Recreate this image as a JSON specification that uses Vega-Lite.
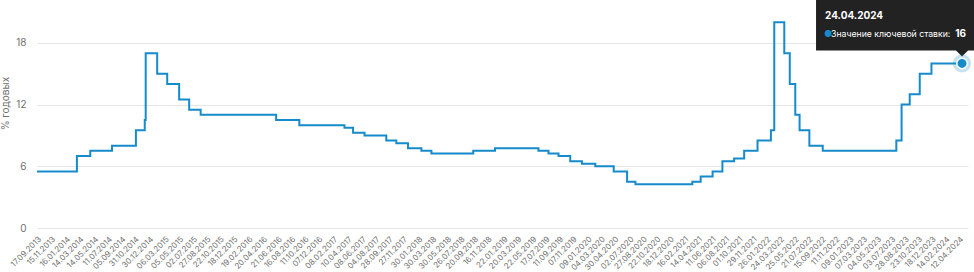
{
  "$schema": "https://vega.github.io/schema/vega-lite/v6.json",
  "width": 931,
  "height": 216,
  "autosize": {"type": "none"},
  "padding": {"left": 37, "top": 12, "right": 6, "bottom": 44},
  "background": "#ffffff",
  "config": {
    "view": {"stroke": null},
    "font": "Inter",
    "axis": {"labelColor": "#6f6f6f", "titleColor": "#6f6f6f", "labelFont": "Inter", "titleFont": "Inter"}
  },
  "datasets": {
    "rate": [
      {"date": "2013-09-17", "rate": 5.5},
      {"date": "2014-03-03", "rate": 7.0},
      {"date": "2014-04-28", "rate": 7.5},
      {"date": "2014-07-28", "rate": 8.0},
      {"date": "2014-11-05", "rate": 9.5},
      {"date": "2014-12-12", "rate": 10.5},
      {"date": "2014-12-16", "rate": 17.0},
      {"date": "2015-02-02", "rate": 15.0},
      {"date": "2015-03-16", "rate": 14.0},
      {"date": "2015-05-05", "rate": 12.5},
      {"date": "2015-06-16", "rate": 11.5},
      {"date": "2015-08-03", "rate": 11.0},
      {"date": "2016-06-14", "rate": 10.5},
      {"date": "2016-09-19", "rate": 10.0},
      {"date": "2017-03-27", "rate": 9.75},
      {"date": "2017-05-02", "rate": 9.25},
      {"date": "2017-06-19", "rate": 9.0},
      {"date": "2017-09-18", "rate": 8.5},
      {"date": "2017-10-30", "rate": 8.25},
      {"date": "2017-12-18", "rate": 7.75},
      {"date": "2018-02-12", "rate": 7.5},
      {"date": "2018-03-26", "rate": 7.25},
      {"date": "2018-09-17", "rate": 7.5},
      {"date": "2018-12-17", "rate": 7.75},
      {"date": "2019-06-17", "rate": 7.5},
      {"date": "2019-07-29", "rate": 7.25},
      {"date": "2019-09-09", "rate": 7.0},
      {"date": "2019-10-28", "rate": 6.5},
      {"date": "2019-12-16", "rate": 6.25},
      {"date": "2020-02-10", "rate": 6.0},
      {"date": "2020-04-27", "rate": 5.5},
      {"date": "2020-06-22", "rate": 4.5},
      {"date": "2020-07-27", "rate": 4.25},
      {"date": "2021-03-22", "rate": 4.5},
      {"date": "2021-04-26", "rate": 5.0},
      {"date": "2021-06-15", "rate": 5.5},
      {"date": "2021-07-26", "rate": 6.5},
      {"date": "2021-09-13", "rate": 6.75},
      {"date": "2021-10-25", "rate": 7.5},
      {"date": "2021-12-20", "rate": 8.5},
      {"date": "2022-02-14", "rate": 9.5},
      {"date": "2022-02-28", "rate": 20.0},
      {"date": "2022-04-11", "rate": 17.0},
      {"date": "2022-05-04", "rate": 14.0},
      {"date": "2022-05-27", "rate": 11.0},
      {"date": "2022-06-14", "rate": 9.5},
      {"date": "2022-07-25", "rate": 8.0},
      {"date": "2022-09-19", "rate": 7.5},
      {"date": "2023-07-24", "rate": 8.5},
      {"date": "2023-08-15", "rate": 12.0},
      {"date": "2023-09-18", "rate": 13.0},
      {"date": "2023-10-30", "rate": 15.0},
      {"date": "2023-12-18", "rate": 16.0},
      {"date": "2024-04-24", "rate": 16.0}
    ],
    "last": [
      {"date": "2024-04-24", "rate": 16, "title": "24.04.2024", "label": "Значение ключевой ставки: ", "value": "16"}
    ]
  },
  "encoding": {
    "x": {
      "field": "date",
      "type": "temporal",
      "scale": {
        "type": "utc",
        "domain": [
          {"year": 2013, "month": 9, "date": 17, "utc": true},
          {"year": 2024, "month": 5, "date": 19, "utc": true}
        ]
      },
      "axis": {
        "title": null,
        "grid": false,
        "domain": false,
        "ticks": false,
        "labelAngle": -45,
        "labelFontSize": 8,
        "labelPadding": 7,
        "labelOverlap": false,
        "labelBound": false,
        "labelFlush": false,
        "format": "%d.%m.%Y",
        "values": [
          {"year": 2013, "month": 9, "date": 17, "utc": true},
          {"year": 2013, "month": 11, "date": 15, "utc": true},
          {"year": 2014, "month": 1, "date": 16, "utc": true},
          {"year": 2014, "month": 3, "date": 14, "utc": true},
          {"year": 2014, "month": 5, "date": 14, "utc": true},
          {"year": 2014, "month": 7, "date": 11, "utc": true},
          {"year": 2014, "month": 9, "date": 5, "utc": true},
          {"year": 2014, "month": 10, "date": 31, "utc": true},
          {"year": 2014, "month": 12, "date": 30, "utc": true},
          {"year": 2015, "month": 3, "date": 6, "utc": true},
          {"year": 2015, "month": 5, "date": 5, "utc": true},
          {"year": 2015, "month": 7, "date": 2, "utc": true},
          {"year": 2015, "month": 8, "date": 27, "utc": true},
          {"year": 2015, "month": 10, "date": 22, "utc": true},
          {"year": 2015, "month": 12, "date": 18, "utc": true},
          {"year": 2016, "month": 2, "date": 19, "utc": true},
          {"year": 2016, "month": 4, "date": 20, "utc": true},
          {"year": 2016, "month": 6, "date": 21, "utc": true},
          {"year": 2016, "month": 8, "date": 16, "utc": true},
          {"year": 2016, "month": 10, "date": 11, "utc": true},
          {"year": 2016, "month": 12, "date": 7, "utc": true},
          {"year": 2017, "month": 2, "date": 8, "utc": true},
          {"year": 2017, "month": 4, "date": 10, "utc": true},
          {"year": 2017, "month": 6, "date": 8, "utc": true},
          {"year": 2017, "month": 8, "date": 4, "utc": true},
          {"year": 2017, "month": 9, "date": 28, "utc": true},
          {"year": 2017, "month": 11, "date": 27, "utc": true},
          {"year": 2018, "month": 1, "date": 30, "utc": true},
          {"year": 2018, "month": 3, "date": 30, "utc": true},
          {"year": 2018, "month": 5, "date": 30, "utc": true},
          {"year": 2018, "month": 7, "date": 26, "utc": true},
          {"year": 2018, "month": 9, "date": 20, "utc": true},
          {"year": 2018, "month": 11, "date": 16, "utc": true},
          {"year": 2019, "month": 1, "date": 22, "utc": true},
          {"year": 2019, "month": 3, "date": 20, "utc": true},
          {"year": 2019, "month": 5, "date": 22, "utc": true},
          {"year": 2019, "month": 7, "date": 17, "utc": true},
          {"year": 2019, "month": 9, "date": 11, "utc": true},
          {"year": 2019, "month": 11, "date": 7, "utc": true},
          {"year": 2020, "month": 1, "date": 9, "utc": true},
          {"year": 2020, "month": 3, "date": 4, "utc": true},
          {"year": 2020, "month": 4, "date": 30, "utc": true},
          {"year": 2020, "month": 7, "date": 2, "utc": true},
          {"year": 2020, "month": 8, "date": 27, "utc": true},
          {"year": 2020, "month": 10, "date": 22, "utc": true},
          {"year": 2020, "month": 12, "date": 18, "utc": true},
          {"year": 2021, "month": 2, "date": 16, "utc": true},
          {"year": 2021, "month": 4, "date": 14, "utc": true},
          {"year": 2021, "month": 6, "date": 11, "utc": true},
          {"year": 2021, "month": 8, "date": 6, "utc": true},
          {"year": 2021, "month": 10, "date": 1, "utc": true},
          {"year": 2021, "month": 11, "date": 29, "utc": true},
          {"year": 2022, "month": 1, "date": 26, "utc": true},
          {"year": 2022, "month": 3, "date": 24, "utc": true},
          {"year": 2022, "month": 5, "date": 25, "utc": true},
          {"year": 2022, "month": 7, "date": 21, "utc": true},
          {"year": 2022, "month": 9, "date": 15, "utc": true},
          {"year": 2022, "month": 11, "date": 11, "utc": true},
          {"year": 2023, "month": 1, "date": 9, "utc": true},
          {"year": 2023, "month": 3, "date": 7, "utc": true},
          {"year": 2023, "month": 5, "date": 4, "utc": true},
          {"year": 2023, "month": 7, "date": 3, "utc": true},
          {"year": 2023, "month": 8, "date": 28, "utc": true},
          {"year": 2023, "month": 10, "date": 23, "utc": true},
          {"year": 2023, "month": 12, "date": 18, "utc": true},
          {"year": 2024, "month": 2, "date": 14, "utc": true},
          {"year": 2024, "month": 4, "date": 12, "utc": true}
        ]
      }
    },
    "y": {
      "field": "rate",
      "type": "quantitative",
      "scale": {"domain": [0, 21], "nice": false, "zero": true},
      "axis": {
        "title": "% годовых",
        "titleFontSize": 10,
        "titleFontWeight": "normal",
        "titleX": -32,
        "titleY": 91,
        "titleAngle": -90,
        "titleAlign": "center",
        "titleBaseline": "middle",
        "values": [0, 6, 12, 18],
        "labelFontSize": 10,
        "labelPadding": 11,
        "domain": false,
        "ticks": false,
        "grid": true,
        "gridColor": "#e6e6e6",
        "gridWidth": 1
      }
    }
  },
  "layer": [
    {
      "data": {"name": "rate"},
      "mark": {"type": "line", "interpolate": "step-after", "color": "#168bcb", "strokeWidth": 2}
    },
    {
      "data": {"name": "last"},
      "mark": {"type": "point", "shape": "M-1.46,-0.75H0.2V-0.13H0.06L0,-0.07L-0.06,-0.13H-1.46Z", "size": 40000, "filled": true, "fill": "#222222", "opacity": 1, "strokeWidth": 0}
    },
    {
      "data": {"name": "last"},
      "mark": {"type": "point", "shape": "circle", "size": 330, "filled": true, "fill": "#168bcb", "opacity": 0.25, "strokeWidth": 0}
    },
    {
      "data": {"name": "last"},
      "mark": {"type": "point", "shape": "circle", "size": 110, "filled": true, "fill": "#168bcb", "stroke": "#ffffff", "strokeWidth": 1.5, "opacity": 1}
    },
    {
      "data": {"name": "last"},
      "mark": {"type": "text", "align": "left", "baseline": "middle", "dx": -137, "dy": -47, "fontSize": 10, "fontWeight": "bold", "color": "#ffffff", "font": "Inter"},
      "encoding": {"text": {"field": "title"}}
    },
    {
      "data": {"name": "last"},
      "mark": {"type": "text", "align": "left", "baseline": "middle", "dx": -138, "dy": -29, "fontSize": 9, "color": "#168bcb", "text": "●"}
    },
    {
      "data": {"name": "last"},
      "mark": {"type": "text", "align": "left", "baseline": "middle", "dx": -131, "dy": -29, "fontSize": 8.7, "color": "#ffffff", "font": "Inter"},
      "encoding": {"text": {"field": "label"}}
    },
    {
      "data": {"name": "last"},
      "mark": {"type": "text", "align": "right", "baseline": "middle", "dx": 4, "dy": -29, "fontSize": 10, "fontWeight": "bold", "color": "#ffffff", "font": "Inter"},
      "encoding": {"text": {"field": "value"}}
    }
  ]
}
